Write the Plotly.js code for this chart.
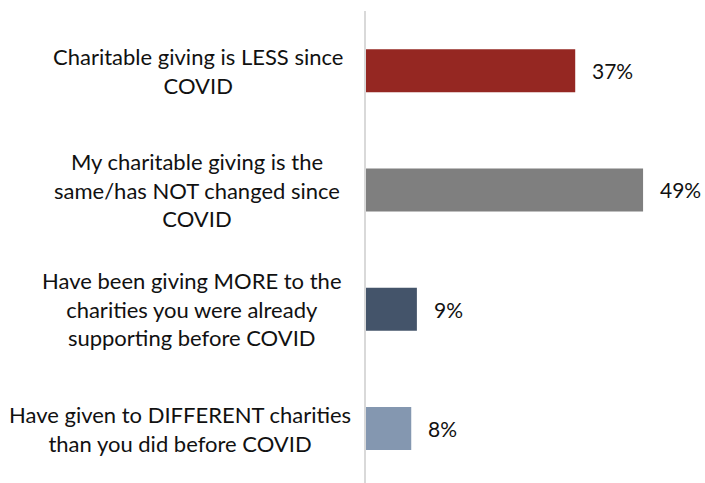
<!DOCTYPE html>
<html>
<head>
<meta charset="utf-8">
<script src="https://cdn.plot.ly/plotly-3.0.1.min.js"></script>
<style>html,body{margin:0;padding:0;background:#fff;}#chart{width:705px;height:483px;}</style>
</head>
<body>
<div id="chart"></div>
<script>
const categories = [
  "Charitable giving is LESS since<br>COVID",
  "My charitable giving is the<br>same/has NOT changed since<br>COVID",
  "Have been giving MORE to the<br>charities you were already<br>supporting before COVID",
  "Have given to DIFFERENT charities<br>than you did before COVID"
];
const values = [37, 49, 9, 8];
const barColors = ["#952722", "#7F7F7F", "#44546A", "#8497B0"];
const labelCenters = [198, 197, 192, 180];

const L = 366, PW = 311;
const FONT = "Lato, 'Open Sans', sans-serif";
const ids = categories.map((c, i) => i);

const trace = {
  type: "bar",
  orientation: "h",
  y: ids,
  x: values,
  width: 0.36,
  marker: {color: barColors},
  hoverinfo: "none"
};

const annotations = [];
categories.forEach((c, i) => {
  annotations.push({
    xref: "paper", yref: "y",
    x: (labelCenters[i] - L) / PW, y: i,
    xanchor: "center", yanchor: "middle", align: "center",
    text: c, showarrow: false,
    font: {family: FONT, size: 22, color: "#111"}
  });
  annotations.push({
    xref: "x", yref: "y",
    x: values[i], y: i, xshift: 15,
    xanchor: "left", yanchor: "middle",
    text: values[i] + "%", showarrow: false,
    font: {family: FONT, size: 21, color: "#111"}
  });
});

const layout = {
  width: 705, height: 483,
  margin: {l: L, r: 705 - L - PW, t: 11, b: 0},
  paper_bgcolor: "#fff", plot_bgcolor: "#fff",
  showlegend: false,
  xaxis: {range: [0, 55], visible: false, fixedrange: true},
  yaxis: {range: [3.456, -0.5], showline: true, linecolor: "#D9D9D9", linewidth: 2,
          showticklabels: false, ticks: "", showgrid: false, zeroline: false},
  annotations: annotations
};

Plotly.newPlot("chart", [trace], layout, {displayModeBar: false, staticPlot: true});
</script>
</body>
</html>
